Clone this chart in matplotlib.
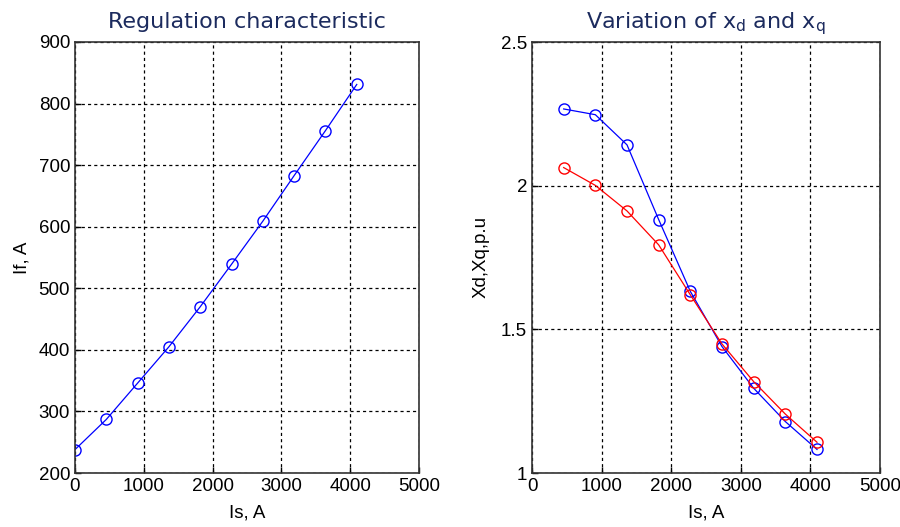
import matplotlib
matplotlib.use('Agg')
import matplotlib.pyplot as plt

# Regulation characteristic data
Is_reg = [0, 455, 910, 1365, 1820, 2275, 2730, 3185, 3640, 4095]
If_reg = [238, 287, 346, 405, 470, 539, 609, 683, 756, 831]

# Variation of xd and xq
Is_x = [455, 910, 1365, 1820, 2275, 2730, 3185, 3640, 4095]
xd = [2.267, 2.247, 2.142, 1.882, 1.632, 1.440, 1.295, 1.179, 1.082]
xq = [2.063, 2.001, 1.912, 1.794, 1.620, 1.449, 1.318, 1.205, 1.107]

xticks = [0, 1000, 2000, 3000, 4000, 5000]

plt.rcParams['mathtext.default'] = 'regular'
tick_font = 'Liberation Sans'
title_color = '#1c2b5e'

fig = plt.figure(figsize=(9, 5.27), dpi=100)
ax1 = fig.add_axes([75/900, 54/527, 344/900, 431/527])
ax2 = fig.add_axes([532/900, 54/527, 348/900, 431/527])

def style(ax):
    ax.grid(True, color='k', linestyle=(0, (2.5, 2.5)), linewidth=0.9)
    ax.set_axisbelow(True)
    ax.tick_params(direction='in', length=4, width=1, labelsize=13.5)
    for lab in ax.get_xticklabels() + ax.get_yticklabels():
        lab.set_fontfamily(tick_font)
    for sp in ax.spines.values():
        sp.set_linewidth(1.2)
        sp.set_color('#333333')

ax1.plot(Is_reg, If_reg, '-o', color='blue', linewidth=0.9,
         markersize=8, markerfacecolor='none', markeredgewidth=1)
ax1.set_xlim(0, 5000)
ax1.set_ylim(200, 900)
ax1.set_xticks(xticks)
ax1.set_yticks(range(200, 901, 100))
ax1.set_xlabel('Is, A', fontsize=13.5, family=tick_font, labelpad=7)
ax1.set_ylabel('If, A', fontsize=13.5, family=tick_font, labelpad=6)
ax1.set_title('Regulation characteristic', fontsize=16, color=title_color, pad=10)
style(ax1)

ax2.plot(Is_x, xd, '-o', color='blue', linewidth=0.9,
         markersize=8, markerfacecolor='none', markeredgewidth=1)
ax2.plot(Is_x, xq, '-o', color='red', linewidth=0.9,
         markersize=8, markerfacecolor='none', markeredgewidth=1)
ax2.set_xlim(0, 5000)
ax2.set_ylim(1, 2.5)
ax2.set_xticks(xticks)
ax2.set_yticks([1, 1.5, 2, 2.5])
ax2.set_yticklabels(['1', '1.5', '2', '2.5'])
ax2.set_xlabel('Is, A', fontsize=13.5, family=tick_font, labelpad=7)
ax2.set_ylabel('Xd,Xq,p.u', fontsize=13.5, family=tick_font, labelpad=8)
ax2.set_title('Variation of x$_d$ and x$_q$', fontsize=16, color=title_color, pad=10)
style(ax2)

fig.savefig('out.png', dpi=100)
